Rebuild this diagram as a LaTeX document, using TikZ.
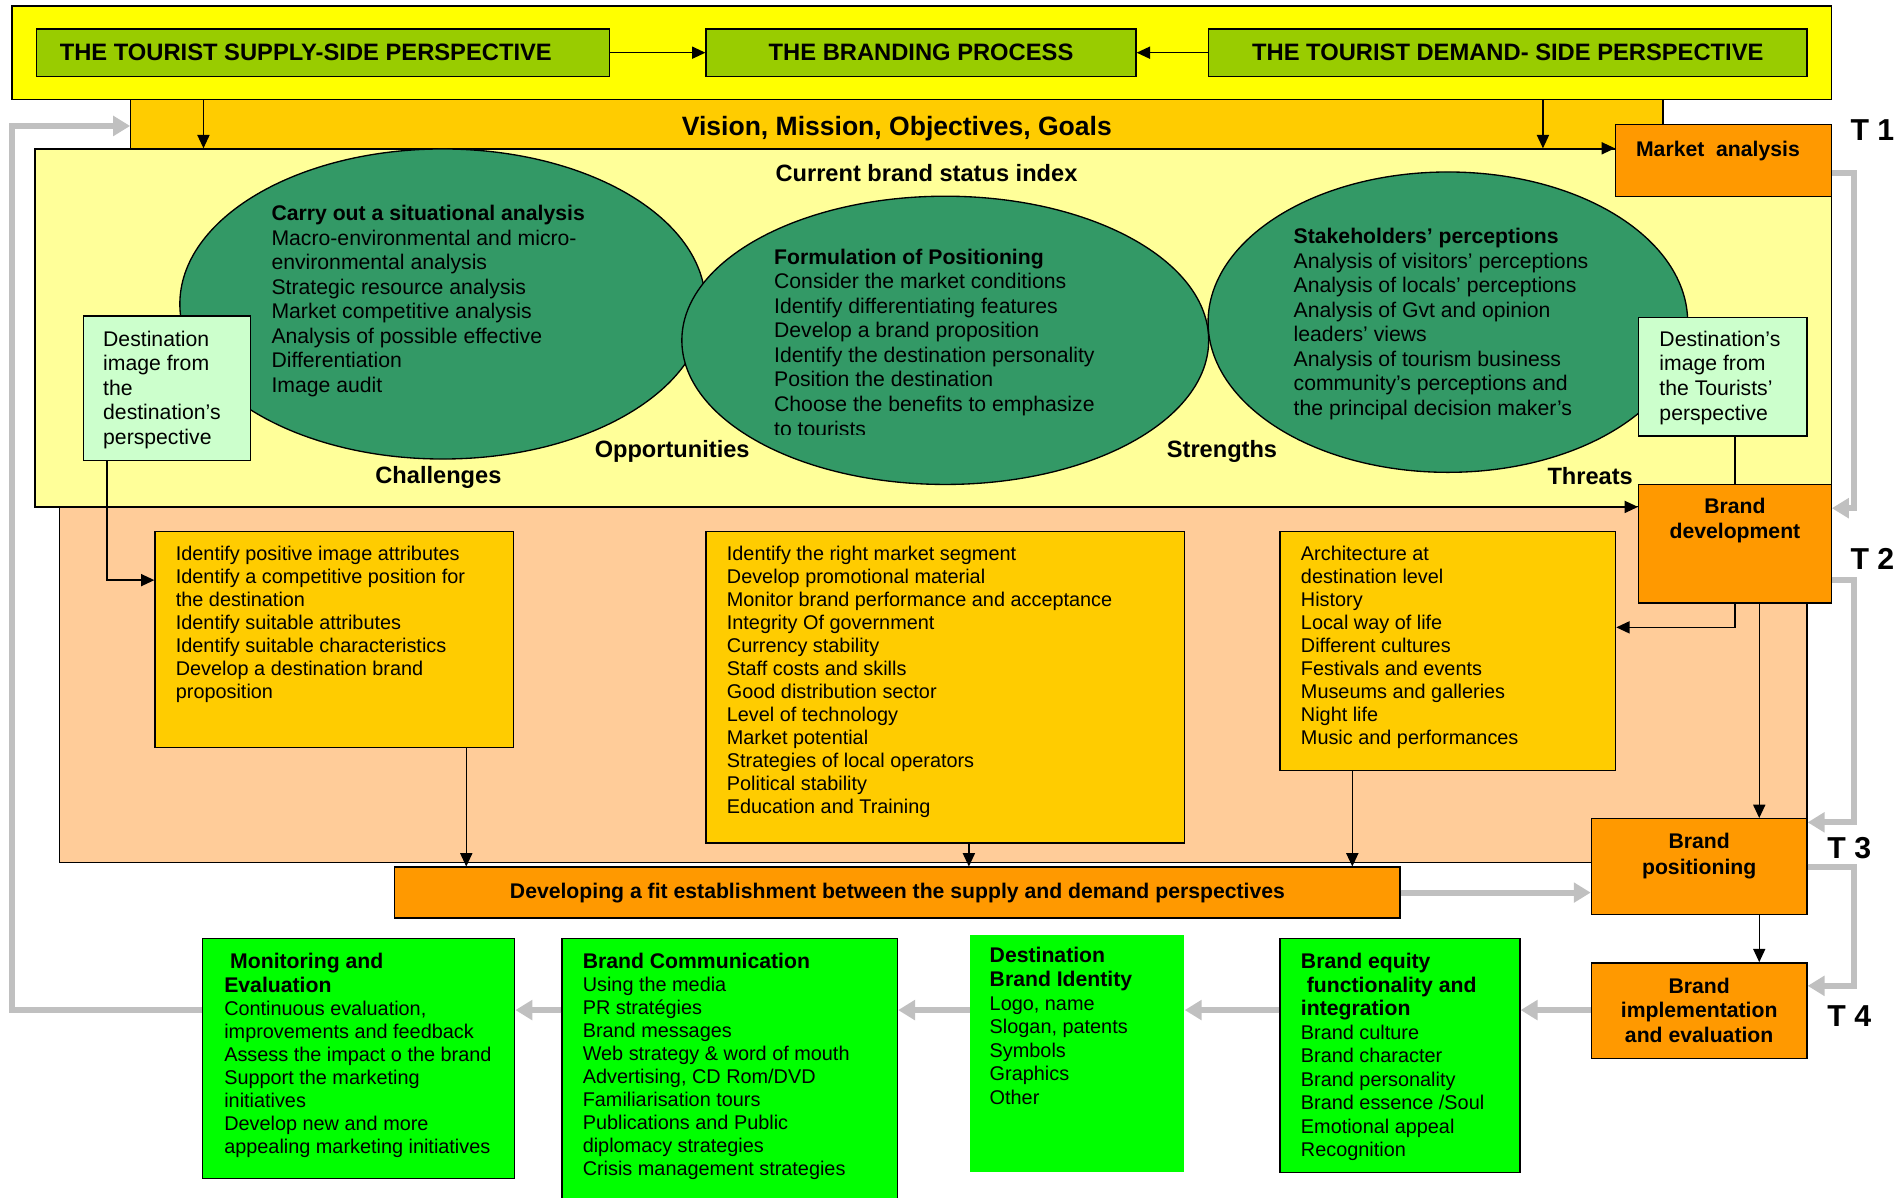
\documentclass[tikz,border=0pt]{standalone}
\usepackage{fontspec}
\setmainfont{Liberation Sans}
\usetikzlibrary{arrows.meta,fit,shapes.geometric}
\definecolor{cYel}{HTML}{FFFF00}
\definecolor{cHead}{HTML}{99CC00}
\definecolor{cGold}{HTML}{FFCC00}
\definecolor{cLight}{HTML}{FFFF99}
\definecolor{cPeach}{HTML}{FFCC99}
\definecolor{cOrange}{HTML}{FF9900}
\definecolor{cSea}{HTML}{339966}
\definecolor{cMint}{HTML}{CCFFCC}
\definecolor{cGreen}{HTML}{00FF00}
\definecolor{cGray}{HTML}{C0C0C0}
\newcommand\bodyf{\fontsize{16.4}{19}\selectfont}
\newcommand\elf{\fontsize{17.5}{20.3}\selectfont}
\newcommand\hd[1]{{\bfseries\fontsize{17.5}{\baselineskip}\selectfont #1}}
\begin{document}
\begin{tikzpicture}[x=1pt,y=-1pt,
  bx/.style={draw=black, line width=1.1pt, inner sep=0pt},
  tx/.style={anchor=base west, align=left, inner sep=0pt},
  tc/.style={anchor=base, align=center, inner sep=0pt},
  bar/.style={draw=black, line width=1.1pt, -{Triangle[length=11pt,width=10pt]}},
  ln/.style={draw=black, line width=1.1pt},
  gar/.style={draw=cGray, line width=5pt, line join=miter, -{Triangle[length=14pt,width=16pt]}},
  ell/.style={ellipse, draw=black, line width=1.1pt, fill=cSea, inner sep=0pt},
]
\useasboundingbox (0,0) rectangle (1568,989);

% top band
\node[bx, fill=cYel, fit={(10,5) (1512,82)}] (yel) {};
\node[bx, fill=cHead, fit={(30,24) (503,63)}] (sup) {};
\node[bx, fill=cHead, fit={(583,24) (938,63)}] (brp) {};
\node[bx, fill=cHead, fit={(998,24) (1492,63)}] (dem) {};
\node[tc, font=\fontsize{19.6}{23}\selectfont\bfseries] (supt) at (252.5,50) {THE TOURIST SUPPLY-SIDE PERSPECTIVE};
\node[tc, font=\fontsize{19.6}{23}\selectfont\bfseries] (brpt) at (760.5,50) {THE BRANDING PROCESS};
\node[tc, font=\fontsize{19.6}{23}\selectfont\bfseries] (demt) at (1245,50) {THE TOURIST DEMAND- SIDE PERSPECTIVE};

\node[bx, fill=cGold, fit={(108,82) (1373,123)}] (vis) {};
\node[tc, font=\fontsize{21.9}{26}\selectfont\bfseries] (vist) at (740.5,112) {Vision, Mission, Objectives, Goals};

% big areas
\node[bx, fill=cPeach, fit={(49,418) (1492,712)}] (peach) {};
\node[bx, fill=cLight, fit={(29,123) (1512,418)}] (lyb) {};

% ellipses
\node[ell, minimum width=434pt, minimum height=256pt] (e1) at (365.5,251) {};
\node[ell, minimum width=435pt, minimum height=238pt] (e2) at (780.5,281) {};
\node[ell, minimum width=396pt, minimum height=248pt] (e3) at (1195.5,266) {};

\node[tc, font=\fontsize{19.5}{23}\selectfont\bfseries] (cbsi) at (765,150) {Current brand status index};

\node[tx, font=\elf] (e1t) at (224,324.1) {\textbf{Carry out a situational analysis}\\Macro-environmental and micro-\\environmental analysis\\Strategic resource analysis\\Market competitive analysis\\Analysis of possible effective\\Differentiation\\Image audit};
\begin{scope}
\clip (600,150) rectangle (1000,358.5);
\node[tx, font=\elf] (e2t) at (639,360.1) {\textbf{Formulation of Positioning}\\Consider the market conditions\\Identify differentiating features\\Develop a brand proposition\\Identify the destination personality\\Position the destination\\Choose the benefits to emphasize\\to tourists};
\end{scope}
\node[tx, font=\elf] (e3t) at (1068,343.1) {\textbf{Stakeholders’ perceptions}\\Analysis of visitors’ perceptions\\Analysis of locals’ perceptions\\Analysis of Gvt and opinion\\leaders’ views\\Analysis of tourism business\\community’s perceptions and\\the principal decision maker’s};

\node[tc, font=\fontsize{19.5}{23}\selectfont\bfseries] (chal) at (362,399) {Challenges};
\node[tc, font=\fontsize{19.5}{23}\selectfont\bfseries] (opp) at (555,378) {Opportunities};
\node[tc, font=\fontsize{19.5}{23}\selectfont\bfseries] (str) at (1009,378) {Strengths};
\node[tc, font=\fontsize{19.5}{23}\selectfont\bfseries] (thr) at (1313,400) {Threats};

\node[bx, fill=cMint, fit={(69,261) (207,380)}] (ldi) {};
\node[tx, font=\fontsize{17.5}{20.25}\selectfont] (ldit) at (85,367) {Destination\\image from\\the\\destination’s\\perspective};
\node[bx, fill=cMint, fit={(1353,262) (1492,360)}] (rdi) {};
\node[tx, font=\fontsize{17.5}{20.3}\selectfont] (rdit) at (1370,346.9) {Destination’s\\image from\\the Tourists’\\perspective};

% orange process boxes
\node[bx, fill=cOrange, fit={(1334,103) (1512,162)}] (mkt) {};
\node[tc, font=\fontsize{17.5}{21}\selectfont\bfseries] (mktt) at (1418.5,129) {Market\ \ analysis};
\node[bx, fill=cOrange, fit={(1353,400) (1512,498)}] (bdev) {};
\node[tc, font=\fontsize{17.5}{21}\selectfont\bfseries] (bdevt) at (1432.5,445) {Brand\\development};

% gold boxes
\node[bx, fill=cGold, fit={(128,439) (424,617)}] (boxA) {};
\node[tx, font=\bodyf] (boxAt) at (145,576.5) {Identify positive image attributes\\Identify a competitive position for\\the destination\\Identify suitable attributes\\Identify suitable characteristics\\Develop a destination brand\\proposition};
\node[bx, fill=cGold, fit={(583,439) (978,696)}] (boxB) {};
\node[tx, font=\bodyf] (boxBt) at (600,671.5) {Identify the right market segment\\Develop promotional material\\Monitor brand performance and acceptance\\Integrity Of government\\Currency stability\\Staff costs and skills\\Good distribution sector\\Level of technology\\Market potential\\Strategies of local operators\\Political stability\\Education and Training};
\node[bx, fill=cGold, fit={(1057,439) (1334,636)}] (boxC) {};
\node[tx, font=\bodyf] (boxCt) at (1074,614.5) {Architecture at\\destination level\\History\\Local way of life\\Different cultures\\Festivals and events\\Museums and galleries\\Night life\\Music and performances};

\node[bx, fill=cOrange, fit={(326,716) (1156,758)}] (fitb) {};
\node[tc, font=\fontsize{17.5}{21}\selectfont\bfseries] (fitt) at (741,742) {Developing a fit establishment between the supply and demand perspectives};
\node[bx, fill=cOrange, fit={(1314,676) (1492,755)}] (bpos) {};
\node[tc, font=\fontsize{17.5}{21}\selectfont\bfseries] (bpost) at (1403,722) {Brand\\positioning};
\node[bx, fill=cOrange, fit={(1314,795) (1492,874)}] (impl) {};
\node[tc, font=\fontsize{17.5}{20.5}\selectfont\bfseries] (implt) at (1403,861) {Brand\\implementation\\and evaluation};

% green boxes
\node[bx, fill=cGreen, fit={(167,775) (425,973)}] (mon) {};
\node[tx, font=\fontsize{16.4}{19.1}\selectfont] (mont) at (185,952.8) {\hd{\hspace*{4.9pt}Monitoring and}\\\hd{Evaluation}\\Continuous evaluation,\\improvements and feedback\\Assess the impact o the brand\\Support the marketing\\initiatives\\Develop new and more\\appealing marketing initiatives};
\node[bx, fill=cGreen, fit={(464,775) (741,995)}] (bcom) {};
\node[tx, font=\fontsize{16.4}{19}\selectfont] (bcomt) at (481,971) {\hd{Brand Communication}\\Using the media\\PR stratégies\\Brand messages\\Web strategy \& word of mouth\\Advertising, CD Rom/DVD\\Familiarisation tours\\Publications and Public\\diplomacy strategies\\Crisis management strategies};
\node[inner sep=0pt, fill=cGreen, fit={(801,772) (978,968)}] (dbi) {};
\node[tx, font=\fontsize{16.4}{19.5}\selectfont] (dbit) at (817,912) {\hd{Destination}\\\hd{Brand Identity}\\Logo, name\\Slogan, patents\\Symbols\\Graphics\\Other};
\node[bx, fill=cGreen, fit={(1057,775) (1255,968)}] (beq) {};
\node[tx, font=\fontsize{16.4}{19.4}\selectfont] (beqt) at (1074,955.2) {\hd{Brand equity}\\\hd{\hspace*{4.9pt}functionality and}\\\hd{integration}\\Brand culture\\Brand character\\Brand personality\\Brand essence /Soul\\Emotional appeal\\Recognition};

% T labels
\node[tc, font=\fontsize{25}{30}\selectfont\bfseries] (t1) at (1546,116) {T 1};
\node[tc, font=\fontsize{25}{30}\selectfont\bfseries] (t2) at (1546,470.5) {T 2};
\node[tc, font=\fontsize{25}{30}\selectfont\bfseries] (t3) at (1527,709) {T 3};
\node[tc, font=\fontsize{25}{30}\selectfont\bfseries] (t4) at (1527,847.5) {T 4};

% black connectors
\draw[bar] (sup) -- (brp);
\draw[bar] (dem) -- (brp);
\coordinate (xa) at (168,0);
\coordinate (xb) at (1274,0);
\draw[bar] (yel.south -| xa) -- (lyb.north -| xa);
\draw[bar] (yel.south -| xb) -- (lyb.north -| xb);
\draw[bar] (lyb.north -| xb) -- (mkt.west |- lyb.north);
\draw[bar] (lyb.south west) -- (bdev.west |- lyb.south);
\coordinate (xl) at (88.4,479);
\draw[bar] (ldi.south -| xl) |- (boxA.west |- xl);
\draw[ln] (bdev.north) -- (bdev.north |- rdi.south);
\coordinate (yc) at (0,518);
\draw[bar] (bdev.south) |- (boxC.east |- yc);
\coordinate (xp) at (1452.6,0);
\draw[bar] (bdev.south -| xp) -- (bpos.north -| xp);
\draw[bar] (bpos.south -| xp) -- (impl.north -| xp);
\coordinate (xA) at (385,0);
\coordinate (xB) at (800,0);
\coordinate (xC) at (1116.6,0);
\draw[bar] (boxA.south -| xA) -- (fitb.north -| xA);
\draw[bar] (boxB.south -| xB) -- (fitb.north -| xB);
\draw[bar] (boxC.south -| xC) -- (fitb.north -| xC);

% grey connectors
\coordinate (xr) at (1531,0);
\draw[gar] (mkt.east |- 0,142.6) -- (xr |- 0,142.6) -- (xr |- 0,419.6) -- (bdev.east |- 0,419.6);
\draw[gar] (bdev.east |- 0,479) -- (xr |- 0,479) -- (xr |- 0,679) -- (bpos.east |- 0,679);
\draw[gar] (bpos.east |- 0,716) -- (xr |- 0,716) -- (xr |- 0,814) -- (impl.east |- 0,814);
\draw[gar] (fitb.east) -- (bpos.west |- fitb.east);
\draw[gar] (impl.west |- 0,834) -- (beq.east |- 0,834);
\draw[gar] (beq.west |- 0,834) -- (dbi.east |- 0,834);
\draw[gar] (dbi.west |- 0,834) -- (bcom.east |- 0,834);
\draw[gar] (bcom.west |- 0,834) -- (mon.east |- 0,834);
\draw[gar] (mon.west |- 0,834) -- (10,834) -- (10,104) -- (vis.west |- 0,104);
\end{tikzpicture}
\end{document}
